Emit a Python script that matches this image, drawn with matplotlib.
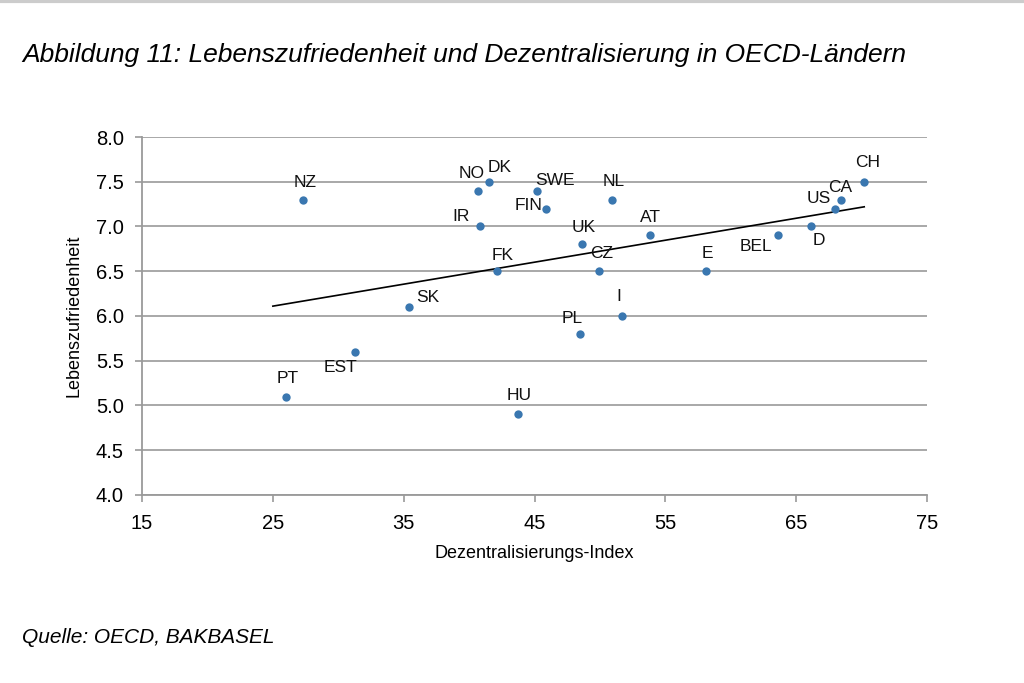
import matplotlib.pyplot as plt

plt.rcParams['font.family'] = ['Liberation Sans', 'DejaVu Sans']

# data
countries = ['NZ', 'NO', 'DK', 'SWE', 'FIN', 'NL', 'IR', 'UK', 'CZ', 'FK', 'AT', 'E',
             'BEL', 'D', 'US', 'CA', 'CH', 'SK', 'I', 'PL', 'EST', 'PT', 'HU']
dezentral = [27.3, 40.7, 41.5, 45.2, 45.9, 50.9, 40.8, 48.6, 49.9, 42.1, 53.8, 58.1,
             63.6, 66.1, 68.0, 68.4, 70.2, 35.4, 51.7, 48.5, 31.3, 26.0, 43.7]
zufriedenheit = [7.3, 7.4, 7.5, 7.4, 7.2, 7.3, 7.0, 6.8, 6.5, 6.5, 6.9, 6.5,
                 6.9, 7.0, 7.2, 7.3, 7.5, 6.1, 6.0, 5.8, 5.6, 5.1, 4.9]
trend_x = [25.0, 70.2]
trend_y = [6.11, 7.22]

x_ticks = [15, 25, 35, 45, 55, 65, 75]
y_ticks = [4.0, 4.5, 5.0, 5.5, 6.0, 6.5, 7.0, 7.5, 8.0]

# label offsets in pixels (dx, dy)
offsets = {
    'NZ': (2, 17), 'NO': (-7, 17), 'DK': (11, 14), 'SWE': (18, 10), 'FIN': (-18, 3),
    'NL': (2, 18), 'IR': (-19, 10), 'UK': (2, 17), 'CZ': (3, 18), 'FK': (6, 16),
    'AT': (1, 18), 'E': (1, 18), 'BEL': (-22, -11), 'D': (8, -14), 'US': (-17, 10),
    'CA': (0, 12), 'CH': (3, 19), 'SK': (19, 10), 'I': (-3, 19), 'PL': (-8, 15),
    'EST': (-15, -16), 'PT': (2, 18), 'HU': (2, 19),
}

fig = plt.figure(figsize=(10.24, 6.83), dpi=100)
ax = fig.add_axes([0.1387, 0.2753, 0.7666, 0.5241])

ax.scatter(dezentral, zufriedenheit, s=36, color='#3a77b0', zorder=3, linewidths=0)
ax.plot(trend_x, trend_y, color='black', lw=1.2, zorder=2)

for c, x, y in zip(countries, dezentral, zufriedenheit):
    dx, dy = offsets[c]
    ax.annotate(c, (x, y), xytext=(dx, dy), textcoords='offset pixels',
                ha='center', va='center', fontsize=12.5, color='#111111')

ax.set_xlim(15, 75)
ax.set_ylim(4.0, 8.0)
ax.set_xticks(x_ticks)
ax.set_yticks(y_ticks)
ax.set_yticklabels([f'{v:.1f}' for v in y_ticks])
ax.yaxis.grid(True, color='#9a9a9a', lw=1.2)
ax.set_axisbelow(True)
for s in ['top', 'right']:
    ax.spines[s].set_visible(False)
for s in ['left', 'bottom']:
    ax.spines[s].set_color('#9a9a9a')
    ax.spines[s].set_linewidth(1.3)
ax.tick_params(axis='both', colors='#9a9a9a', labelcolor='black', labelsize=14.5,
               length=5, width=1.2)
ax.tick_params(axis='x', pad=9)
ax.tick_params(axis='y', pad=8)
ax.set_xlabel('Dezentralisierungs-Index', fontsize=13, labelpad=8)
ax.set_ylabel('Lebenszufriedenheit', fontsize=13, labelpad=10)

fig.text(0.0215, 0.919, 'Abbildung 11: Lebenszufriedenheit und Dezentralisierung in OECD-Ländern',
         fontsize=19, style='italic', va='center', ha='left')
fig.text(0.0215, 0.067, 'Quelle: OECD, BAKBASEL', fontsize=15, style='italic',
         va='center', ha='left')
fig.add_artist(plt.Line2D([0, 1], [0.998, 0.998], color='#cccccc', lw=3,
                          transform=fig.transFigure))

fig.savefig('out.png', dpi=100)
